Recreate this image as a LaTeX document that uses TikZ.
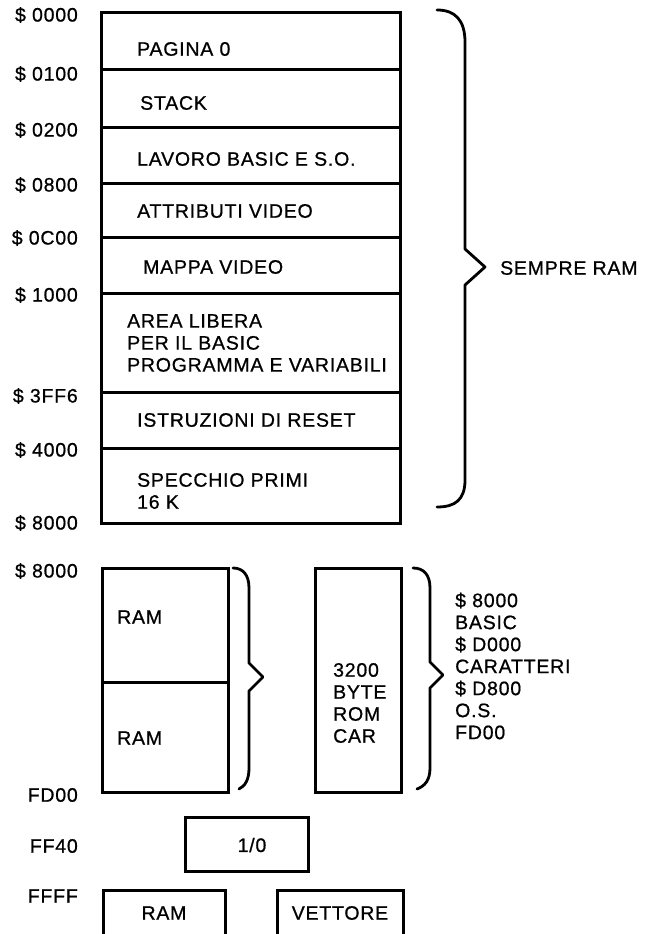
\documentclass[tikz,border=0pt]{standalone}
\usepackage{fontspec}
\setmainfont[LetterSpace=4,FakeBold=0.8]{Liberation Sans}
\usepackage{tikz}

\begin{document}
\begin{tikzpicture}[x=1pt,y=-1pt,
        cella/.style={draw,line width=3pt,inner sep=0pt,minimum width=299pt,font=\fontsize{19.5}{22}\selectfont},
        testo/.style={anchor=west,inner sep=0pt,align=left,font=\fontsize{19.5}{22}\selectfont},
        indir/.style={anchor=east,inner sep=0pt,font=\fontsize{19.5}{22}\selectfont},
        graffa/.style={line width=2.8pt,line join=round,line cap=round}]
            \useasboundingbox (0,0) rectangle (645,934);
            \clip (0,0) rectangle (645,934);
            % parte sempre RAM
            \node[cella,minimum height=57pt] (pag0) at (250.5,41.5) {};
            \node[cella,minimum height=57pt] (stack) at (250.5,98.5) {};
            \node[cella,minimum height=56pt] (lavoro) at (250.5,155) {};
            \node[cella,minimum height=54pt] (attr) at (250.5,210) {};
            \node[cella,minimum height=56pt] (mappa) at (250.5,265) {};
            \node[cella,minimum height=99pt] (area) at (250.5,342.5) {};
            \node[cella,minimum height=56pt] (reset) at (250.5,420) {};
            \node[cella,minimum height=75pt] (specchio) at (250.5,485.5) {};
            \node[testo] (tpag0) at (137,49) {PAGINA 0};
            \node[testo] (tstack) at (140,103) {STACK};
            \node[testo] (tlavoro) at (137,159) {LAVORO BASIC E S.O.};
            \node[testo] (tattr) at (137,211) {ATTRIBUTI VIDEO};
            \node[testo] (tmappa) at (143,267) {MAPPA VIDEO};
            \node[testo] (tarea) at (127,343) {AREA LIBERA\\PER IL BASIC\\PROGRAMMA E VARIABILI};
            \node[testo] (treset) at (137,420) {ISTRUZIONI DI RESET};
            \node[testo] (tspecchio) at (137,491) {SPECCHIO PRIMI\\16 K};
            \node[indir] (a0000) at (78,15) {\$ 0000};
            \node[indir] (a0100) at (78,74) {\$ 0100};
            \node[indir] (a0200) at (78,130) {\$ 0200};
            \node[indir] (a0800) at (78,185) {\$ 0800};
            \node[indir] (a0C00) at (78,238) {\$ 0C00};
            \node[indir] (a1000) at (78,295) {\$ 1000};
            \node[indir] (a3FF6) at (78,396) {\$ 3FF6};
            \node[indir] (a4000) at (78,450) {\$ 4000};
            \node[indir] (a8000) at (78,523) {\$ 8000};
            \draw[graffa] (437,10) .. controls (455,10) and (465,20) .. (465,42) -- (465,249)
                -- (485,267) -- (465,285) -- (465,480) .. controls (465,500) and (455,507) .. (437,507);
            \node[testo] (sempre) at (500,268) {SEMPRE RAM};
            % parte da \$ 8000 a FFFF
            \node[indir] (b8000) at (78,571) {\$ 8000};
            \node[cella,minimum width=126pt,minimum height=114pt] (ram1) at (165,625) {};
            \node[cella,minimum width=126pt,minimum height=110pt] (ram2) at (165,737) {};
            \node[testo] (tram1) at (117,617) {RAM};
            \node[testo] (tram2) at (117,738) {RAM};
            \draw[graffa] (233,568) .. controls (243,568) and (249,575) .. (249,588) -- (249,663)
                -- (263,677) -- (249,691) -- (249,768) .. controls (249,780) and (245,786) .. (239,789);
            \node[cella,minimum width=86pt,minimum height=224pt] (rom) at (358,680) {};
            \node[testo] (trom) at (333,703) {3200\\BYTE\\ROM\\CAR};
            \draw[graffa] (413,568) .. controls (424,568) and (430,575) .. (430,588) -- (430,662)
                -- (443,675) -- (430,688) -- (430,768) .. controls (430,780) and (425,786) .. (417,789);
            \node[testo] (trom2) at (455,666) {\$ 8000\\BASIC\\\$ D000\\CARATTERI\\\$ D800\\O.S.\\FD00};
            \node[indir] (aFD00) at (78,795) {FD00};
            \node[indir] (aFF40) at (78,846) {FF40};
            \node[indir] (aFFFF) at (78,896) {FFFF};
            \node[cella,minimum width=123pt,minimum height=54pt] (io) at (246.5,844) {};
            \node[testo,anchor=center] (tio) at (252,845) {1/0};
            \node[cella,minimum width=122pt,minimum height=46pt] (ramb) at (164,913) {RAM};
            \node[cella,minimum width=126pt,minimum height=46pt] (vett) at (340,913) {VETTORE};
        \end{tikzpicture}
\end{document}
